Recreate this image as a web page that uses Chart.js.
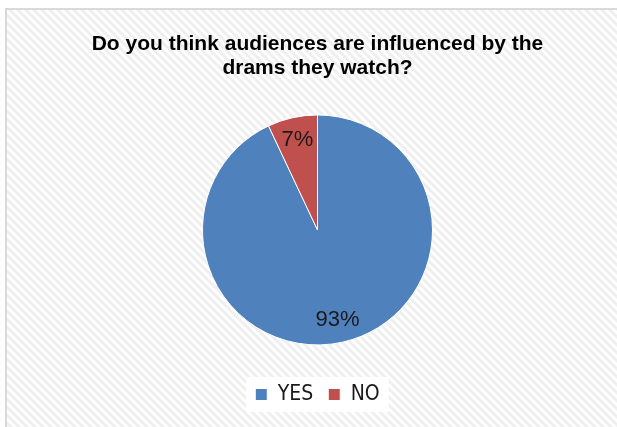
<!DOCTYPE html>
<html>
<head>
<meta charset="utf-8">
<script src="https://cdn.jsdelivr.net/npm/chart.js@4"></script>
<style>
html,body{margin:0;padding:0;background:#fff;}
#wrap{width:617px;height:427px;position:relative;}
</style>
</head>
<body>
<div id="wrap"><canvas id="c" width="617" height="427"></canvas></div>
<script>
const categories = ["YES", "NO"];
const percentValues = [93, 7];
const sliceColors = ["#4F81BD", "#C0504D"];
const titleLines = ["Do you think audiences are influenced by the", "drams they watch?"];

function makeHatch() {
  const p = document.createElement('canvas');
  p.width = 8; p.height = 8;
  const g = p.getContext('2d');
  g.fillStyle = '#ffffff';
  g.fillRect(0, 0, 8, 8);
  g.strokeStyle = '#efefef';
  g.lineWidth = 3;
  g.beginPath();
  g.moveTo(-2, -2); g.lineTo(10, 10);
  g.moveTo(-10, -2); g.lineTo(2, 10);
  g.moveTo(6, -2); g.lineTo(18, 10);
  g.stroke();
  return p;
}

const backgroundPlugin = {
  id: 'bgPlugin',
  beforeDraw(chart) {
    const ctx = chart.ctx;
    ctx.save();
    ctx.fillStyle = '#ffffff';
    ctx.fillRect(0, 0, chart.width, chart.height);
    ctx.fillStyle = ctx.createPattern(makeHatch(), 'repeat');
    ctx.fillRect(7, 10, chart.width - 7, chart.height - 10);
    ctx.strokeStyle = '#d9d9d9';
    ctx.lineWidth = 2;
    ctx.strokeRect(6, 9, chart.width + 10, chart.height + 10);
    const lg = chart.legend;
    if (lg && lg.legendHitBoxes && lg.legendHitBoxes.length) {
      const boxes = lg.legendHitBoxes;
      let l = Infinity, r = -Infinity, t = Infinity, b = -Infinity;
      boxes.forEach(h => { l = Math.min(l, h.left); r = Math.max(r, h.left + h.width); t = Math.min(t, h.top); b = Math.max(b, h.top + h.height); });
      ctx.fillStyle = '#ffffff';
      ctx.fillRect(l - 9, t - 7, r - l + 18, b - t + 14);
    }
    ctx.restore();
  }
};

const labelPlugin = {
  id: 'sliceLabels',
  afterDatasetsDraw(chart) {
    const ctx = chart.ctx;
    const meta = chart.getDatasetMeta(0);
    ctx.save();
    ctx.font = '22px "Liberation Sans"';
    ctx.fillStyle = '#1a1a1a';
    ctx.textAlign = 'center';
    ctx.textBaseline = 'middle';
    meta.data.forEach((arc, i) => {
      const p = arc.getProps(['x', 'y', 'startAngle', 'endAngle', 'outerRadius'], true);
      const mid = (p.startAngle + p.endAngle) / 2;
      const rr = p.outerRadius * 0.8;
      ctx.fillText(percentValues[i] + '%', p.x + Math.cos(mid) * rr, p.y + Math.sin(mid) * rr);
    });
    ctx.restore();
  }
};

new Chart(document.getElementById('c'), {
  type: 'pie',
  data: {
    labels: categories,
    datasets: [{
      data: percentValues,
      backgroundColor: sliceColors,
      borderColor: '#ffffff',
      borderWidth: 1,
      radius: 115
    }]
  },
  options: {
    responsive: false,
    animation: false,
    layout: { padding: { left: 18, right: 0, top: 0, bottom: 12 } },
    plugins: {
      title: {
        display: true,
        text: titleLines,
        color: '#000000',
        font: { family: '"Liberation Sans", Arial, sans-serif', size: 21, weight: 'bold', lineHeight: 1.14 },
        padding: { top: 32, bottom: 11 }
      },
      legend: {
        display: true,
        position: 'bottom',
        labels: {
          color: '#1a1a1a',
          font: { family: '"DejaVu Sans Condensed", "Liberation Sans", sans-serif', size: 21 },
          boxWidth: 12,
          boxHeight: 12,
          padding: 15
        }
      },
      tooltip: { enabled: false }
    }
  },
  plugins: [backgroundPlugin, labelPlugin]
});
</script>
</body>
</html>
